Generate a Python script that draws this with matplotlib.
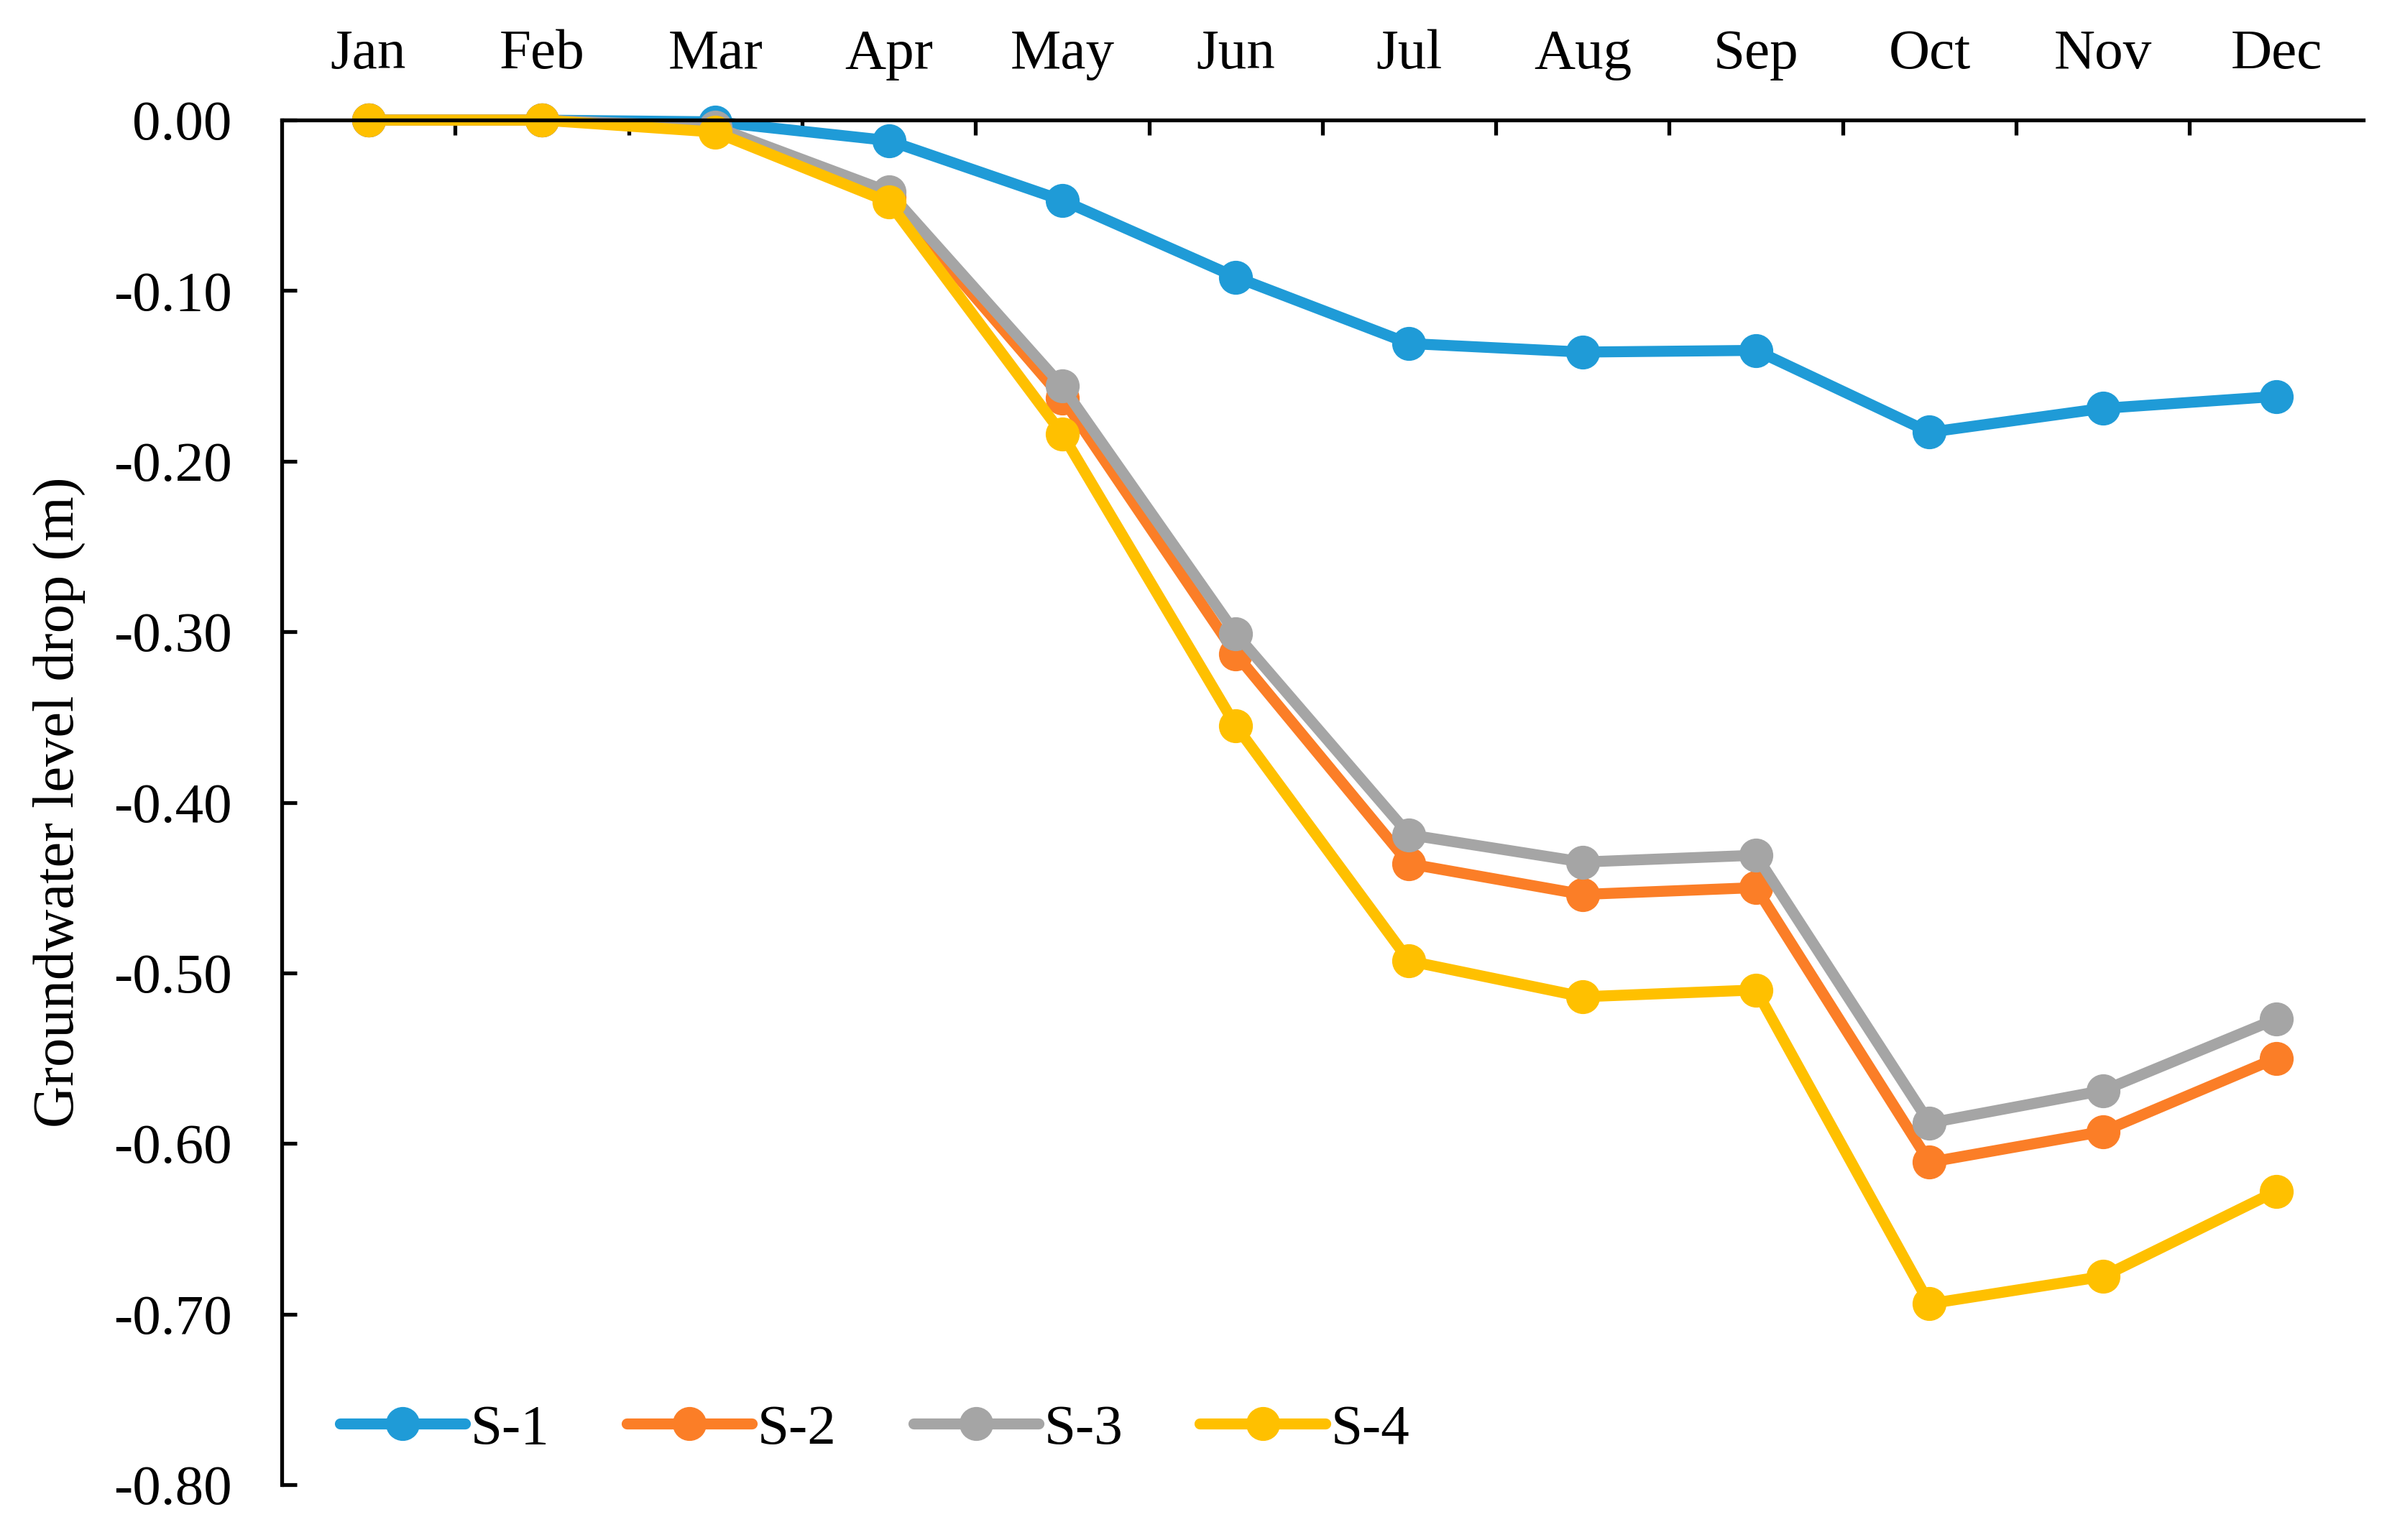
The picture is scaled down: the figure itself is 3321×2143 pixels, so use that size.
import matplotlib
matplotlib.use("Agg")
import matplotlib.pyplot as plt
import numpy as np

months = ["Jan", "Feb", "Mar", "Apr", "May", "Jun", "Jul", "Aug", "Sep", "Oct", "Nov", "Dec"]
s1 = [0.000, 0.000, -0.001, -0.012, -0.047, -0.092, -0.131, -0.136, -0.135, -0.183, -0.169, -0.162]
s2 = [0.000, 0.000, -0.005, -0.045, -0.163, -0.313, -0.436, -0.454, -0.450, -0.611, -0.593, -0.550]
s3 = [0.000, 0.000, -0.004, -0.042, -0.156, -0.301, -0.419, -0.435, -0.431, -0.588, -0.569, -0.527]
s4 = [0.000, 0.000, -0.007, -0.048, -0.184, -0.355, -0.493, -0.514, -0.510, -0.694, -0.678, -0.628]
series_names = ["S-1", "S-2", "S-3", "S-4"]
colors = ["#1F9BD7", "#FB7E27", "#A5A5A5", "#FFC000"]
yticks = [0.0, -0.1, -0.2, -0.3, -0.4, -0.5, -0.6, -0.7, -0.8]

plt.rcParams['font.family'] = ['Liberation Serif', 'DejaVu Serif']

fig = plt.figure(figsize=(33.21, 21.43), dpi=100)
ax = fig.add_axes([0.118, 0.036, 0.872, 0.886])

x = np.arange(len(months))
for data, name, c in zip([s1, s2, s3, s4], series_names, colors):
    ax.plot(x, data, color=c, lw=11, marker='o', markersize=33, label=name,
            solid_joinstyle='round', solid_capstyle='round', clip_on=False)

ax.set_xlim(-0.5, len(months) - 0.5)
ax.set_ylim(-0.8, 0.0)

ax.spines['bottom'].set_visible(False)
ax.spines['right'].set_visible(False)
ax.spines['top'].set_linewidth(3.8)
ax.spines['left'].set_linewidth(3.8)

ax.xaxis.tick_top()
ax.set_xticks(x)
ax.set_xticklabels(months)
ax.set_xticks(np.arange(-0.5, len(months) + 0.5, 1.0)[1:-1], minor=True)
ax.tick_params(axis='x', which='major', length=0, pad=40, labelsize=57)
ax.tick_params(axis='x', which='minor', direction='in', length=15, width=3.8)

ax.set_yticks(yticks)
ax.set_yticklabels([f"{v:.2f}" for v in yticks])
ax.tick_params(axis='y', which='major', direction='in', length=15, width=3.8, pad=50, labelsize=57)

ax.set_ylabel("Groundwater level drop (m)", fontsize=58, labelpad=28)

ax.legend(loc='center left', bbox_to_anchor=(0.028, 0.04), ncol=4, frameon=False,
          fontsize=57, handlelength=2.2, handletextpad=0.1, columnspacing=1.35,
          borderpad=0, borderaxespad=0)

fig.savefig("out.png", dpi=100)
